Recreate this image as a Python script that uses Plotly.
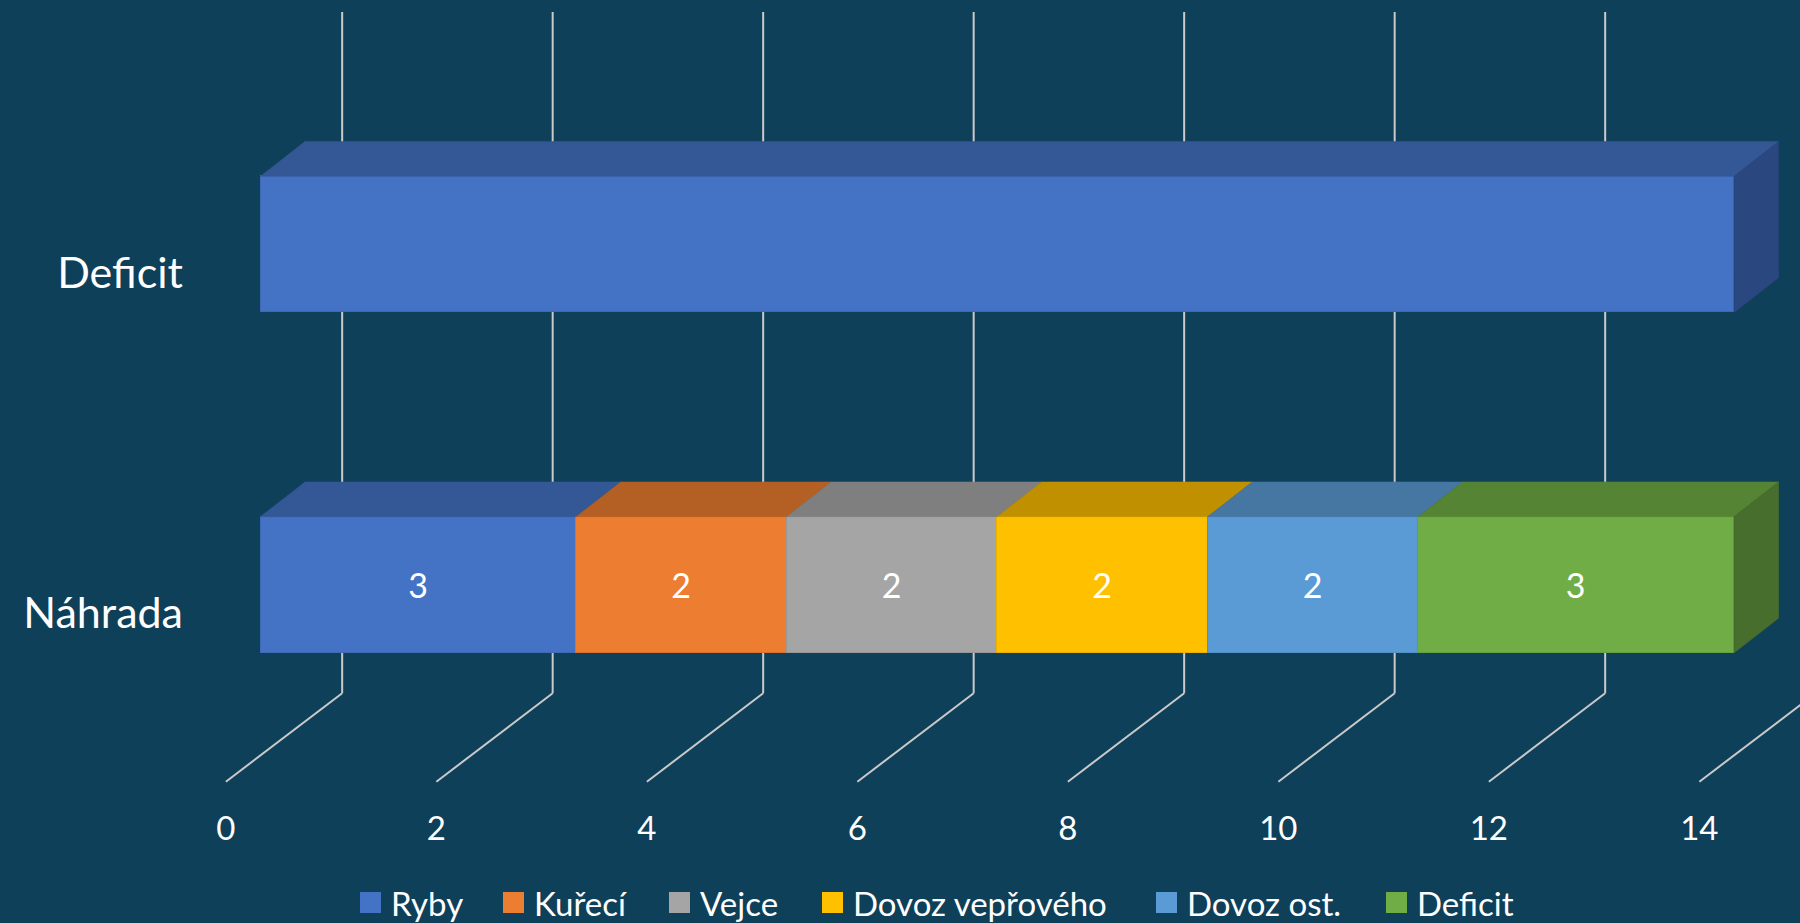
import plotly.graph_objects as go

# ---------------- data ----------------
categories = ["Náhrada", "Deficit"]
series_names = ["Ryby", "Kuřecí", "Vejce", "Dovoz vepřového", "Dovoz ost.", "Deficit"]
ryby = [3, 14]
kureci = [2, None]
vejce = [2, None]
dovoz_veproveho = [2, None]
dovoz_ost = [2, None]
deficit = [3, None]
label_shown = [True, False]          # data labels per category
x_ticks = [0, 2, 4, 6, 8, 10, 12, 14]

series_values = [ryby, kureci, vejce, dovoz_veproveho, dovoz_ost, deficit]

front_colors = ["#4472C4", "#ED7D31", "#A5A5A5", "#FFC000", "#5B9BD5", "#70AD47"]
top_colors = ["#345796", "#B45F24", "#7F7F7F", "#C09000", "#4676A2", "#568435"]
side_colors = ["#2A477F", "#9A521F", "#6C6C6C", "#A67C00", "#3C668E", "#476E2C"]
edge_colors = ["#3F69B5", "#D9722C", "#989898", "#EAB000", "#5490C6", "#67A041"]

# ---------------- geometry (layout) ----------------
W, H = 1800, 923
X0_PX, X_PPU = 260.6, 105.25        # px of value 0 on the bar front plane, px per unit
Y0_PX, Y_PPU = 584.7, 340.4         # px of first category centre, px per category
bar_width = 0.4
depth_dx = 44.4 / X_PPU             # bar depth (oblique projection)
depth_dy = 34.6 / Y_PPU
wall_dx = 0.775                     # back wall offset from bar front plane
floor_front_dx = -0.33              # front floor edge offset
y_wall_bottom = (Y0_PX - 693.3) / Y_PPU
y_wall_top = (Y0_PX - 12.0) / Y_PPU
y_floor_front = (Y0_PX - 781.7) / Y_PPU
cat_label_dy = -28.5 / Y_PPU

x_range = [-X0_PX / X_PPU, (W - X0_PX) / X_PPU]
y_range = [(Y0_PX - H) / Y_PPU, Y0_PX / Y_PPU]

font_family = "Lato, 'Open Sans', sans-serif"
cat_pos = list(range(len(categories)))

fig = go.Figure()

# ---------------- front faces (bars) ----------------
for i, (name, vals) in enumerate(zip(series_names, series_values)):
    texts = [(f"{v:g}" if (v is not None and label_shown[k]) else "") for k, v in enumerate(vals)]
    fig.add_trace(go.Bar(
        name=name, y=cat_pos, x=vals, orientation="h", width=bar_width,
        marker=dict(color=front_colors[i], line=dict(color=edge_colors[i], width=1)),
        text=texts, textposition="inside", insidetextanchor="middle", textangle=0,
        insidetextfont=dict(family=font_family, size=34, color="#FFFFFF"),
        constraintext="none", showlegend=False, hoverinfo="name+x",
    ))

# ---------------- top & side faces (3D look) ----------------
cum = [0.0 for _ in categories]
last_seg = [None for _ in categories]
tops = [([], []) for _ in series_names]
for i, vals in enumerate(series_values):
    for k, v in enumerate(vals):
        if v is None:
            continue
        x0, x1 = cum[k], cum[k] + v
        yt = cat_pos[k] + bar_width / 2
        xs, ys = tops[i]
        xs += [x0, x1, x1 + depth_dx, x0 + depth_dx, x0, None]
        ys += [yt, yt, yt + depth_dy, yt + depth_dy, yt, None]
        cum[k] = x1
        last_seg[k] = i

for i in range(len(series_names)):
    xs, ys = tops[i]
    if xs:
        fig.add_trace(go.Scatter(x=xs, y=ys, mode="lines", fill="toself",
                                 fillcolor=top_colors[i], line=dict(width=0.6, color=top_colors[i]),
                                 showlegend=False, hoverinfo="skip"))

for k in range(len(categories)):
    i = last_seg[k]
    xe = cum[k]
    yt = cat_pos[k] + bar_width / 2
    yb = cat_pos[k] - bar_width / 2
    fig.add_trace(go.Scatter(
        x=[xe, xe + depth_dx, xe + depth_dx, xe, xe],
        y=[yb, yb + depth_dy, yt + depth_dy, yt, yb],
        mode="lines", fill="toself", fillcolor=side_colors[i],
        line=dict(width=0.6, color=side_colors[i]), showlegend=False, hoverinfo="skip"))

# ---------------- gridlines: back wall + floor ----------------
shapes = []
grid_color = "#CACACA"
for v in x_ticks:
    xb = v + wall_dx
    shapes.append(dict(type="line", xref="x", yref="y", layer="below",
                       x0=xb, y0=y_wall_bottom, x1=xb, y1=y_wall_top,
                       line=dict(color=grid_color, width=2)))
    shapes.append(dict(type="line", xref="x", yref="y", layer="below",
                       x0=xb, y0=y_wall_bottom, x1=v + floor_front_dx, y1=y_floor_front,
                       line=dict(color=grid_color, width=2)))

# background texture (lighter left side, smooth fade)
bg_steps = 24
for j in range(bg_steps):
    shapes.insert(0, dict(type="rect", xref="paper", yref="paper", layer="below",
                          x0=0, x1=(30 + 14 * j) / W, y0=0, y1=1,
                          fillcolor="rgba(60,84,98,0.017)", line=dict(width=0)))

# ---------------- custom legend (bottom) ----------------
legend_x_px = [360, 503, 669, 822, 1156, 1386]
legend_y_px = 902.5
sq = 21
annotations = []
for i, name in enumerate(series_names):
    lx = legend_x_px[i]
    shapes.append(dict(type="rect", xref="paper", yref="paper", layer="above",
                       x0=lx / W, x1=(lx + sq) / W,
                       y0=1 - (legend_y_px + sq / 2) / H, y1=1 - (legend_y_px - sq / 2) / H,
                       fillcolor=front_colors[i], line=dict(width=0)))
    annotations.append(dict(xref="paper", yref="paper", x=(lx + sq + 8) / W,
                            y=1 - legend_y_px / H, xanchor="left", yanchor="middle",
                            text=name, showarrow=False,
                            font=dict(family=font_family, size=33, color="#FFFFFF")))

fig.update_layout(
    width=W, height=H,
    margin=dict(l=0, r=0, t=0, b=0, pad=0),
    paper_bgcolor="#0F4059", plot_bgcolor="rgba(0,0,0,0)",
    barmode="stack", bargap=0,
    showlegend=False,
    shapes=shapes, annotations=annotations,
    font=dict(family=font_family, color="#FFFFFF"),
    xaxis=dict(range=x_range, showgrid=False, zeroline=False, showline=False,
               tickvals=[v + floor_front_dx for v in x_ticks],
               ticktext=[f"{v:g}" for v in x_ticks],
               ticks="", anchor="free", position=1 - 806 / H,
               tickfont=dict(family=font_family, size=33, color="#FFFFFF"),
               fixedrange=True),
    yaxis=dict(range=y_range, showgrid=False, zeroline=False, showline=False,
               tickvals=[c + cat_label_dy for c in cat_pos], ticktext=categories,
               ticks="", anchor="free", position=183 / W,
               tickfont=dict(family=font_family, size=43, color="#FFFFFF"),
               fixedrange=True),
)

fig.write_html("out.html",
               config={"displayModeBar": False},
               post_script="document.body.style.margin='0';document.body.style.overflow='hidden';")
